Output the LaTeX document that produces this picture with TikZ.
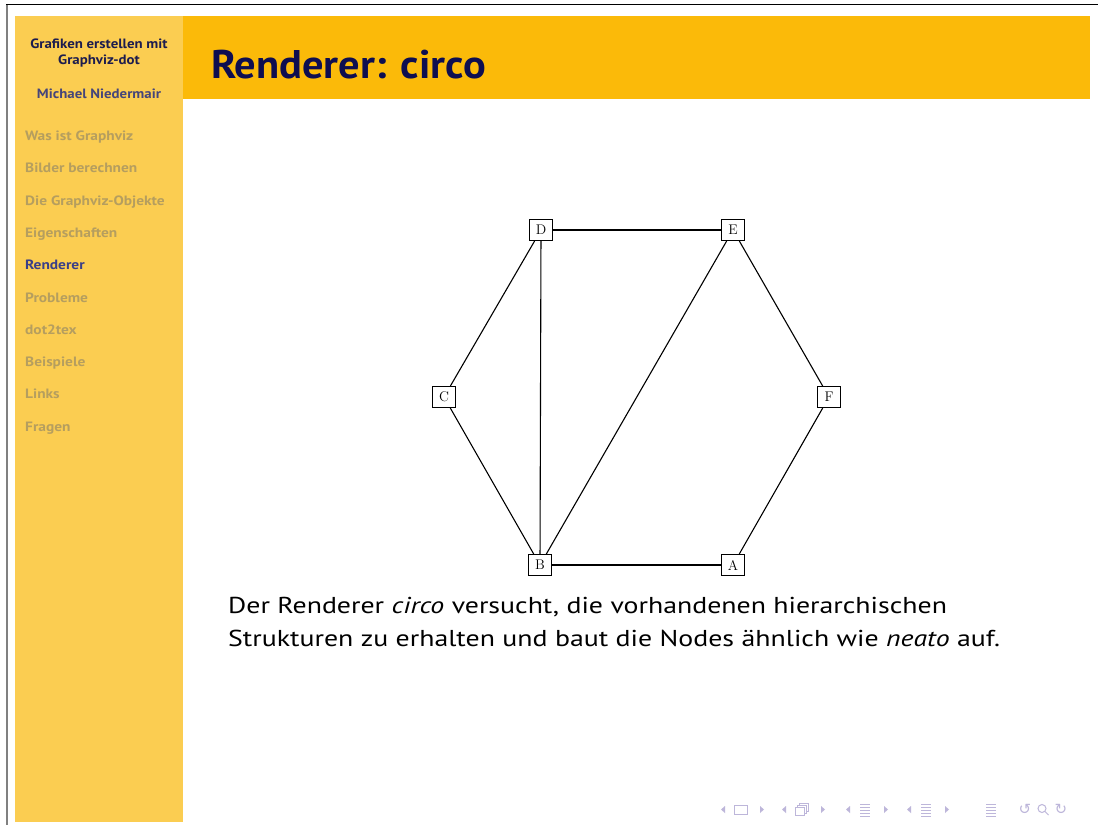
\documentclass[tikz,border=0pt]{standalone}
\usepackage{fontspec}
\newfontfamily\biobody[FakeStretch=1.21]{PT Sans}
\newfontfamily\biotitle[FakeStretch=1.06]{PT Sans}
\newfontfamily\bioside[FakeStretch=1.10]{PT Sans}
\newfontfamily\biomenu[FakeStretch=1.14]{PT Sans}
\newfontfamily\navfont{DejaVu Sans}
\definecolor{sidebarc}{HTML}{FBCD51}
\definecolor{titlec}{HTML}{FBBA09}
\definecolor{navy}{HTML}{0E0E50}
\definecolor{sbtext}{HTML}{1C1C4E}
\definecolor{authc}{HTML}{45457A}
\definecolor{menugray}{HTML}{B59E5F}
\definecolor{menuact}{HTML}{3A3F88}
\definecolor{navc}{HTML}{BDB6DA}
\tikzset{
  gnode/.style={draw, line width=1.1pt, minimum width=23pt, minimum height=21pt, inner sep=0pt, font=\fontsize{14}{14}\selectfont},
  gedge/.style={line width=1.1pt},
  sidehead/.style={anchor=base, inner sep=0pt, font=\bioside\bfseries\fontsize{13.5}{14}\selectfont, text=sbtext},
  menu/.style={anchor=base west, inner sep=0pt, font=\biomenu\bfseries\fontsize{13.5}{14}\selectfont, text=menugray},
  body/.style={anchor=base west, inner sep=0pt, font=\biobody\fontsize{23}{26}\selectfont, text=black},
  navsym/.style={navc, line width=1pt},
}
\begin{document}
\begin{tikzpicture}[x=1pt,y=-1pt]
\useasboundingbox (0,0) rectangle (1098,825);
\fill[white] (0,0) rectangle (1098,825);
% frame lines
\draw[gray, line width=2pt] (6.5,4) -- (6.5,825);
\draw[black, line width=1.3pt] (6,4.5) -- (1098,4.5);
% sidebar and title bar
\fill[sidebarc] (15,16) rectangle (183,822);
\fill[titlec] (183,16) rectangle (1090,99);
% sidebar header
\node[sidehead] (st1) at (99,48) {Grafiken erstellen mit};
\node[sidehead] (st2) at (99,64) {Graphviz-dot};
\node[sidehead, text=authc] (au) at (99,98) {Michael Niedermair};
% menu
\node[menu] (m1) at (25,140.5) {Was ist Graphviz};
\node[menu] (m2) at (25,172.8) {Bilder berechnen};
\node[menu] (m3) at (25,205.1) {Die Graphviz-Objekte};
\node[menu] (m4) at (25,237.4) {Eigenschaften};
\node[menu, text=menuact] (m5) at (25,269.7) {Renderer};
\node[menu] (m6) at (25,302) {Probleme};
\node[menu] (m7) at (25,334.3) {dot2tex};
\node[menu] (m8) at (25,366.6) {Beispiele};
\node[menu] (m9) at (25,398.9) {Links};
\node[menu] (m10) at (25,431.2) {Fragen};
% title
\node[anchor=base west, inner sep=0pt, font=\biotitle\bfseries\fontsize{40}{44}\selectfont, text=navy] (title) at (211,78) {Renderer: circo};
% graph
\node[gnode] (D) at (541,230) {D};
\node[gnode] (E) at (733,230) {E};
\node[gnode] (C) at (444,397) {C};
\node[gnode] (F) at (829,397) {F};
\node[gnode] (B) at (540,565) {B};
\node[gnode] (A) at (733,565) {A};
\draw[gedge] (D) -- (E);
\draw[gedge] (D) -- (C);
\draw[gedge] (D) -- (B);
\draw[gedge] (E) -- (F);
\draw[gedge] (E) -- (B);
\draw[gedge] (C) -- (B);
\draw[gedge] (B) -- (A);
\draw[gedge] (A) -- (F);
% body text
\node[body] (t1) at (228,613) {Der Renderer \textit{circo} versucht, die vorhandenen hierarchischen};
\node[body] (t2) at (228,646) {Strukturen zu erhalten und baut die Nodes ähnlich wie \textit{neato} auf.};
% navigation symbols
\begin{scope}[navsym]
  % group 1
  \fill (725,806) -- (721,809.5) -- (725,813) -- cycle;
  \draw (734.5,805) rectangle (747.5,814);
  \fill (760,806) -- (764,809.5) -- (760,813) -- cycle;
  % group 2
  \fill (786,806) -- (782,809.5) -- (786,813) -- cycle;
  \draw (795,807) rectangle (804,815);
  \draw (797,807) -- (797,805) -- (806,805) -- (806,813) -- (804,813);
  \draw (799,805) -- (799,803) -- (808,803) -- (808,811) -- (806,811);
  \fill (821,806) -- (825,809.5) -- (821,813) -- cycle;
  % group 3
  \fill (850,806) -- (846,809.5) -- (850,813) -- cycle;
  \foreach \yy in {804,807,810,813,816} \draw[line width=0.8pt] (860,\yy) -- (870,\yy);
  \fill (884,806) -- (888,809.5) -- (884,813) -- cycle;
  % group 4
  \fill (911,806) -- (907,809.5) -- (911,813) -- cycle;
  \foreach \yy in {804,807,810,813,816} \draw[line width=0.8pt] (921,\yy) -- (931,\yy);
  \fill (945,806) -- (949,809.5) -- (945,813) -- cycle;
  % single
  \foreach \yy in {804,807,810,813,816} \draw[line width=0.8pt] (986,\yy) -- (996,\yy);
  % magnifier
  \draw (1042,808.5) circle (4);
  \draw (1045,811.5) -- (1048.5,815);
\end{scope}
\node[inner sep=0pt, text=navc, font=\navfont\fontsize{15}{15}\selectfont] (back) at (1025,809) {↺};
\node[inner sep=0pt, text=navc, font=\navfont\fontsize{15}{15}\selectfont] (fwd) at (1061,809) {↻};
\end{tikzpicture}
\end{document}
